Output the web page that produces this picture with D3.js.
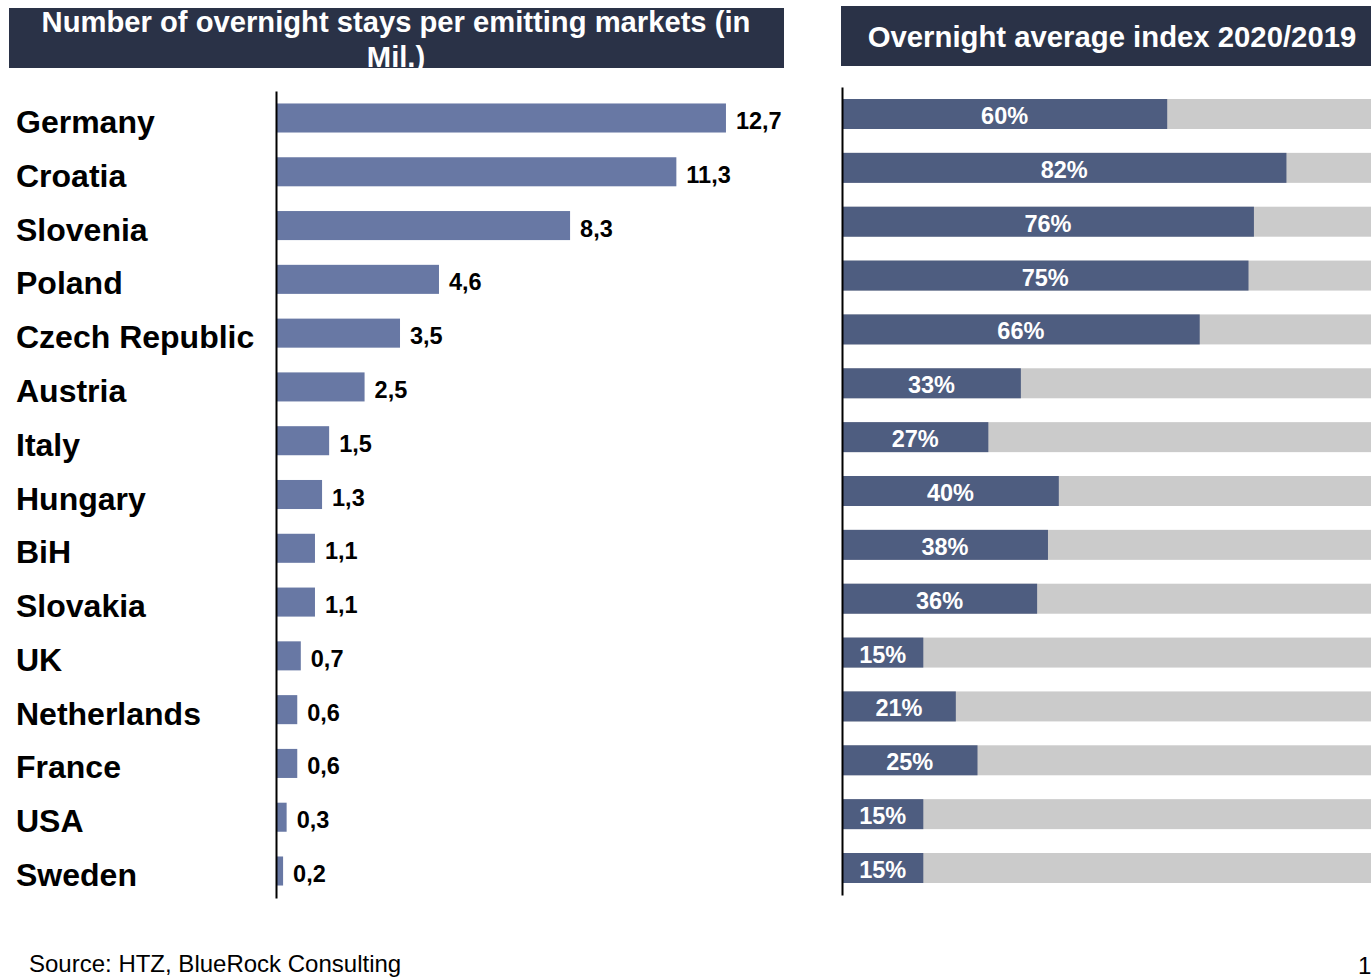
<!DOCTYPE html>
<html>
<head>
<meta charset="utf-8">
<script src="https://cdn.jsdelivr.net/npm/d3@7"></script>
<style>
  html, body { margin: 0; padding: 0; background: #ffffff; overflow: hidden; }
  svg { display: block; font-family: "Liberation Sans", Arial, sans-serif; }
</style>
</head>
<body>
<svg id="chart" width="1371" height="978"></svg>
<script>
// Emitting markets, overnight stays (millions)
const markets = ["Germany", "Croatia", "Slovenia", "Poland", "Czech Republic", "Austria", "Italy",
  "Hungary", "BiH", "Slovakia", "UK", "Netherlands", "France", "USA", "Sweden"];
const staysMil = [12.7, 11.3, 8.3, 4.6, 3.5, 2.5, 1.5, 1.3, 1.1, 1.1, 0.7, 0.6, 0.6, 0.3, 0.2];
// Overnight average index 2020/2019 (%)
const indexPct = [60, 82, 76, 75, 66, 33, 27, 40, 38, 36, 15, 21, 25, 15, 15];

const leftTitle = ["Number of overnight stays per emitting markets (in", "Mil.)"];
const rightTitle = "Overnight average index 2020/2019";
const sourceText = "Source: HTZ, BlueRock Consulting";
const pageNumber = "1";

const C = {
  header: "#2a3247",
  bar: "#6878a4",
  dark: "#4e5d80",
  rest: "#cbcbcb",
  text: "#000000"
};

const svg = d3.select("#chart");
const fmt = d => d3.format(".1f")(d).replace(".", ",");

// ---------- header boxes ----------
svg.append("rect").attr("x", 9).attr("y", 8).attr("width", 775).attr("height", 60).attr("fill", C.header);
const lt = svg.append("text").attr("fill", "#fff").attr("font-weight", "bold").attr("font-size", 29.2)
  .attr("text-anchor", "middle");
leftTitle.forEach((s, i) => lt.append("tspan").attr("x", 396).attr("y", 32 + i * 35).text(s));

// the second title line is cut at the box edge
svg.append("rect").attr("x", 9).attr("y", 68).attr("width", 775).attr("height", 20).attr("fill", "#fff");

svg.append("rect").attr("x", 841).attr("y", 6).attr("width", 530).attr("height", 60).attr("fill", C.header);
svg.append("text").attr("x", 1112).attr("y", 47).attr("fill", "#fff").attr("font-weight", "bold")
  .attr("font-size", 29.3).attr("text-anchor", "middle").text(rightTitle);

// ---------- left panel: overnight stays ----------
const yL = d3.scaleBand().domain(markets).range([91.1, 897.9]).paddingInner(0.46).paddingOuter(0.23);
const xL = d3.scaleLinear().domain([0, 13]).range([276, 276 + 13 * 35.43]);

const left = svg.append("g");
left.selectAll("rect.bar").data(markets).join("rect").attr("class", "bar")
  .attr("x", xL(0)).attr("y", d => yL(d))
  .attr("width", (d, i) => xL(staysMil[i]) - xL(0))
  .attr("height", yL.bandwidth())
  .attr("fill", C.bar);

left.selectAll("text.val").data(markets).join("text").attr("class", "val")
  .attr("x", (d, i) => xL(staysMil[i]) + 10)
  .attr("y", d => yL(d) + yL.bandwidth() / 2 + 3)
  .attr("dominant-baseline", "central")
  .attr("font-size", 23.5).attr("font-weight", "bold").attr("fill", C.text)
  .text((d, i) => fmt(staysMil[i]));

left.selectAll("text.cat").data(markets).join("text").attr("class", "cat")
  .attr("x", 16)
  .attr("y", d => yL(d) + yL.bandwidth() / 2 + 4)
  .attr("dominant-baseline", "central")
  .attr("font-size", 32).attr("font-weight", "bold").attr("fill", C.text)
  .text(d => d);

const axL = left.append("g").attr("transform", `translate(${xL(0)},0)`)
  .call(d3.axisLeft(yL).tickSize(0).tickSizeOuter(0).tickFormat(""));
axL.select(".domain").attr("stroke", "#000").attr("stroke-width", 2);

// ---------- right panel: index 2020/2019 ----------
const yR = d3.scaleBand().domain(markets).range([87.07, 894.93]).paddingInner(0.443).paddingOuter(0.2215);
const xR = d3.scaleLinear().domain([0, 100]).range([842, 1384]);

const right = svg.append("g");
right.selectAll("rect.rest").data(markets).join("rect").attr("class", "rest")
  .attr("x", xR(0)).attr("y", d => yR(d))
  .attr("width", xR(100) - xR(0)).attr("height", yR.bandwidth())
  .attr("fill", C.rest);

right.selectAll("rect.idx").data(markets).join("rect").attr("class", "idx")
  .attr("x", xR(0)).attr("y", d => yR(d))
  .attr("width", (d, i) => xR(indexPct[i]) - xR(0))
  .attr("height", yR.bandwidth())
  .attr("fill", C.dark);

right.selectAll("text.pct").data(markets).join("text").attr("class", "pct")
  .attr("x", (d, i) => (xR(0) + xR(indexPct[i])) / 2)
  .attr("y", d => yR(d) + yR.bandwidth() / 2 + 2)
  .attr("dominant-baseline", "central").attr("text-anchor", "middle")
  .attr("font-size", 23.5).attr("font-weight", "bold").attr("fill", "#fff")
  .text((d, i) => indexPct[i] + "%");

const axR = right.append("g").attr("transform", `translate(${xR(0)},0)`)
  .call(d3.axisLeft(yR).tickSize(0).tickSizeOuter(0).tickFormat(""));
axR.select(".domain").attr("stroke", "#000").attr("stroke-width", 2);

// ---------- footer ----------
svg.append("text").attr("x", 29).attr("y", 972).attr("font-size", 24).attr("fill", C.text).text(sourceText);
svg.append("text").attr("x", 1358).attr("y", 974).attr("font-size", 24).attr("fill", C.text).text(pageNumber);
</script>
</body>
</html>
